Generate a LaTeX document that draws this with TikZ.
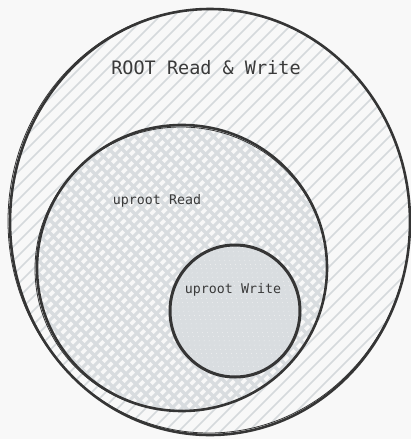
\documentclass[tikz,border=0pt]{standalone}
\usepackage{fontspec}
\newfontfamily\diagmono{DejaVu Sans Mono}
\begin{document}
\begin{tikzpicture}[x=1pt,y=-1pt,
  hatch/.style={draw=hatchc, line width=1.5pt},
  hatchB/.style={draw=hatchd, line width=3pt},
  rim/.style={draw=rimc, line width=2.6pt},
  lbl/.style={text=txtc, inner sep=0pt, font=\diagmono}]
\definecolor{bgc}{HTML}{F8F8F8}
\definecolor{hatchc}{HTML}{D5D9DC}
\definecolor{hatchd}{HTML}{D8DCDF}
\definecolor{fills}{HTML}{D9DDE0}
\definecolor{rimc}{HTML}{353535}
\definecolor{txtc}{HTML}{3A3A3A}
\fill[bgc] (0,0) rectangle (411,439);
\useasboundingbox (0,0) rectangle (411,439);
% outer hatch (lower-left to upper-right)
\begin{scope}
  \clip (210,222) ellipse [x radius=200, y radius=213];
  \foreach \i in {-900,-886,...,500} \draw[hatch] (\i,460) -- ++(500,-500);
\end{scope}
% middle region cross hatch
\begin{scope}
  \clip (182,268) ellipse [x radius=145, y radius=143];
  \fill[bgc] (0,0) rectangle (411,439);
  \foreach \i in {-900,-890,...,500} \draw[hatchB] (\i,460) -- ++(500,-500);
  \foreach \i in {-100,-87,...,900} \draw[hatchB, line width=3.2pt] (\i,460) -- ++(-500,-500);
\end{scope}
% small region
\begin{scope}
  \clip (235,311) ellipse [x radius=65, y radius=66];
  \fill[fills] (0,0) rectangle (411,439);
  \foreach \i in {-900,-895,...,500} \draw[draw=bgc!70!fills, line width=0.6pt, dash pattern=on 1pt off 5pt] (\i,460) -- ++(500,-500);
\end{scope}
% outlines
\draw[rim] (210,222) ellipse [x radius=200, y radius=213];
\draw[draw=rimc, line width=0.8pt] (209,221) ellipse [x radius=201, y radius=212];
\draw[rim] (182,268) ellipse [x radius=145, y radius=143];
\draw[draw=rimc, line width=0.8pt] (181,269) ellipse [x radius=146, y radius=142];
\draw[rim, line width=3pt] (235,311) ellipse [x radius=65, y radius=66];
% labels
\node[lbl, font=\diagmono\fontsize{18.5}{20}\selectfont] (root) at (206,68) {ROOT Read \& Write};
\node[lbl, font=\diagmono\fontsize{13.3}{15}\selectfont] (read) at (157,201) {uproot Read};
\node[lbl, font=\diagmono\fontsize{13.3}{15}\selectfont] (write) at (233,290) {uproot Write};
\end{tikzpicture}
\end{document}
